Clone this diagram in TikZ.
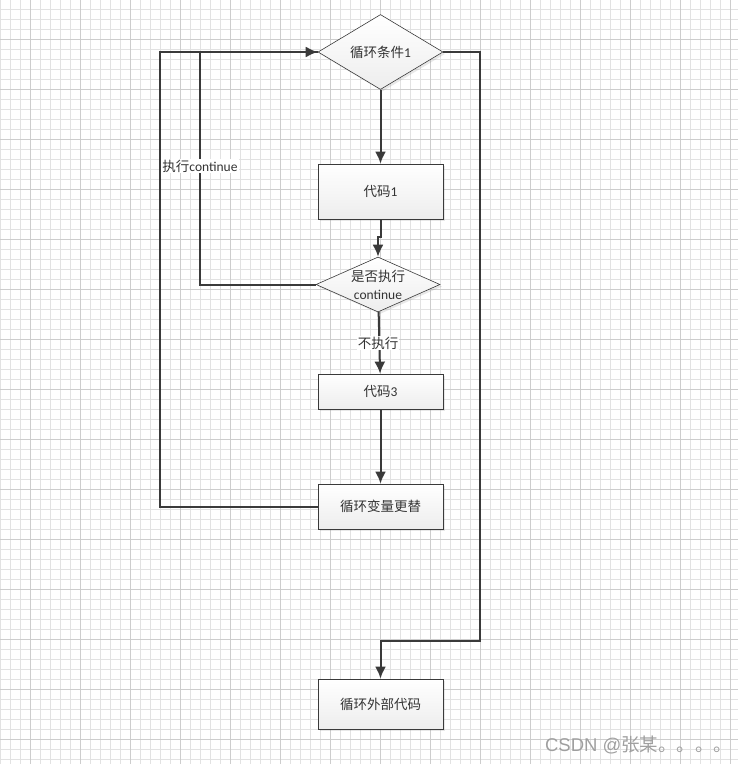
\documentclass[tikz,border=0pt]{standalone}
\usepackage{fontspec}
\setmainfont{Carlito}
\newfontfamily\cjk{Noto Sans CJK SC}
\newfontfamily\marksans{Liberation Sans}
\usetikzlibrary{shapes.geometric,arrows.meta,shadows}

\newcommand\zh[1]{{\cjk #1}}

\definecolor{linegray}{HTML}{3A3A3A}
\definecolor{textgray}{HTML}{333333}
\definecolor{gridminor}{HTML}{E2E2E2}
\definecolor{gridmajor}{HTML}{CDCDCD}

\tikzset{
  box/.style={rectangle, draw=linegray, line width=0.8pt,
    top color=white, bottom color=gray!14, minimum width=125pt,
    text=textgray, font=\fontsize{13.5}{16}\selectfont,
    drop shadow={shadow xshift=2pt, shadow yshift=-2pt, opacity=0.18}},
  test/.style={diamond, draw=linegray, line width=0.6pt, inner sep=0pt,
    aspect=2.25, top color=white, bottom color=gray!14, align=center,
    text=textgray, font=\fontsize{13.5}{18}\selectfont,
    drop shadow={shadow xshift=2pt, shadow yshift=-2pt, opacity=0.18}},
  flow/.style={draw=linegray, line width=2pt, -{Latex[length=12pt,width=11pt]}},
  link/.style={draw=linegray, line width=2pt},
  lbl/.style={fill=white, text=textgray, inner sep=1pt,
    font=\fontsize{13.5}{16}\selectfont}
}

\begin{document}
\begin{tikzpicture}[x=1pt,y=-1pt]

\useasboundingbox (0,0) rectangle (738,764);

% grade
\foreach \x in {0,10,...,730}
{
    \draw[gridminor,line width=0.8pt] (\x,0) -- (\x,764);
}
\foreach \y in {-0.5,9.5,...,760}
{
    \draw[gridminor,line width=0.8pt] (0,\y) -- (738,\y);
}
\foreach \x in {30,80,...,730}
{
    \draw[gridmajor,line width=0.8pt] (\x,0) -- (\x,764);
}
\foreach \y in {39.5,89.5,...,740}
{
    \draw[gridmajor,line width=0.8pt] (0,\y) -- (738,\y);
}

% blocos
\node[test, minimum width=125pt, minimum height=75pt] (cond) at (380.5,52) {\zh{循环条件}1};
\node[box, minimum height=55pt] (code1) at (380.5,191.5) {\zh{代码}1};
\node[test, inner sep=-4pt, minimum width=124pt, minimum height=55pt] (ifcont) at (378,284.5) {\zh{是否执行}\\continue};
\node[box, minimum height=35pt] (code3) at (380.5,391.5) {\zh{代码}3};
\node[box, minimum height=45pt] (update) at (380.5,506.5) {\zh{循环变量更替}};
\node[box, minimum height=50pt] (after) at (380.5,704) {\zh{循环外部代码}};

% cantos
\coordinate (rturn) at (480,641);
\coordinate (lturn) at (160,506.5);
\coordinate (cturn) at (200,284.5);

% setas
\draw[flow] (cond) -- (code1);
\draw[flow] (code1.south) -- ++(0,18) -| (ifcont.north);
\draw[flow] (ifcont) -- (code3);
\draw[flow] (code3) -- (update);
\draw[link] (ifcont.west) -- (cturn) |- (cond.west);
\draw[flow] (update.west) -- (lturn) |- (cond.west);
\draw[flow] (cond.east) -| (rturn) -| (after.north);

% rotulos
\node[lbl] (lcont) at (200,166) {\zh{执行}continue};
\node[lbl] (lnot) at (378,343) {\zh{不执行}};

% marca
\node[anchor=east, text=gray!75, font=\fontsize{18.5}{21}\selectfont] (mark) at (736,745) {\marksans CSDN @\zh{张某。。。。}};

\end{tikzpicture}
\end{document}
